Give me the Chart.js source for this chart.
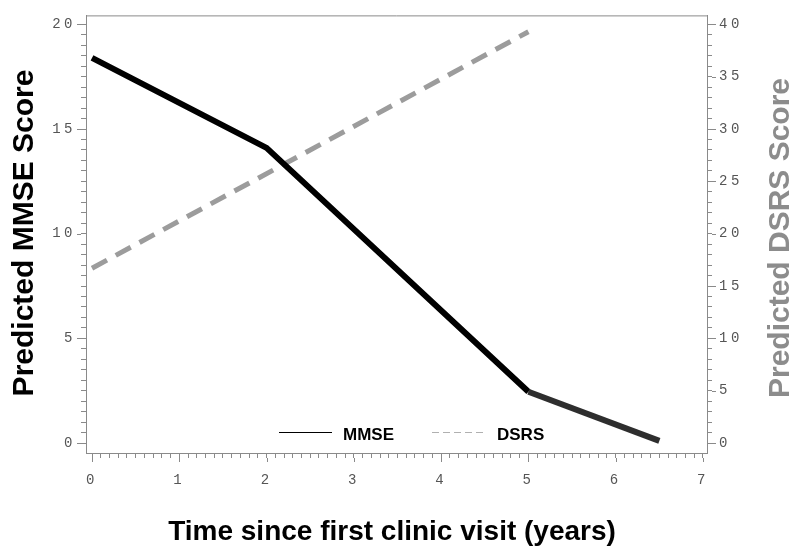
<!DOCTYPE html>
<html>
<head>
<meta charset="utf-8">
<script src="https://cdn.jsdelivr.net/npm/chart.js@4.4.0/dist/chart.umd.min.js"></script>
<style>
  html, body { margin: 0; padding: 0; background: #fff; }
</style>
</head>
<body>
<canvas id="myChart" width="800" height="550"></canvas>
<script>
// Years since first clinic visit for each series
var mmseYears = [0, 2, 5, 6.5];
var dsrsYears = [0, 5];
// Predicted scores
var mmse = [18.4, 14.1, 2.45, 0.1];
var dsrs = [16.7, 39.3];
// Labelled ticks
var yearTicks = [0, 1, 2, 3, 4, 5, 6, 7];
var mmseTicks = [0, 5, 10, 15, 20];
var dsrsTicks = [0, 5, 10, 15, 20, 25, 30, 35, 40];

var axisGrey = "#8a8a8a";
var tickFont = { family: "Liberation Mono", size: 14 };

function isIn(list, v) {
  for (var i = 0; i < list.length; i++) {
    if (Math.abs(list[i] - v) < 1e-6) return true;
  }
  return false;
}

function pairs(xs, ys) {
  return xs.map(function (x, i) { return { x: x, y: ys[i] }; });
}

// frame line on top, longer major ticks, titles and the legend
var decorations = {
  id: "decorations",
  beforeDraw: function (chart) {
    chart.ctx.letterSpacing = "3.5px";
  },
  afterDraw: function (chart) {
    var ctx = chart.ctx;
    var a = chart.chartArea;
    var sx = chart.scales.x, sy = chart.scales.y, sy1 = chart.scales.y1;
    ctx.save();
    ctx.letterSpacing = "0px";
    ctx.strokeStyle = axisGrey;
    ctx.lineWidth = 1;

    // top frame
    ctx.beginPath();
    ctx.moveTo(a.left, a.top + 0.5);
    ctx.lineTo(a.right, a.top + 0.5);
    ctx.stroke();

    // major tick extension
    ctx.beginPath();
    yearTicks.forEach(function (v) {
      var px = Math.round(sx.getPixelForValue(v)) + 0.5;
      ctx.moveTo(px, a.bottom + 5);
      ctx.lineTo(px, a.bottom + 9);
    });
    mmseTicks.forEach(function (v) {
      var py = Math.round(sy.getPixelForValue(v)) + 0.5;
      ctx.moveTo(a.left - 5, py);
      ctx.lineTo(a.left - 9, py);
    });
    dsrsTicks.forEach(function (v) {
      var py = Math.round(sy1.getPixelForValue(v)) + 0.5;
      ctx.moveTo(a.right + 5, py);
      ctx.lineTo(a.right + 9, py);
    });
    ctx.stroke();

    // axis titles
    ctx.font = "bold 30px 'Liberation Sans'";
    ctx.textAlign = "center";
    ctx.textBaseline = "alphabetic";
    ctx.fillStyle = "#000";
    ctx.save();
    ctx.translate(33, 233);
    ctx.rotate(-Math.PI / 2);
    ctx.fillText("Predicted MMSE Score", 0, 0);
    ctx.restore();

    ctx.fillStyle = "#8c8c8c";
    ctx.save();
    ctx.translate(789, 238);
    ctx.rotate(-Math.PI / 2);
    ctx.fillText("Predicted DSRS Score", 0, 0);
    ctx.restore();

    ctx.fillStyle = "#000";
    ctx.font = "bold 28px 'Liberation Sans'";
    ctx.fillText("Time since first clinic visit (years)", 392, 540);

    // legend
    var ly = 432.5;
    ctx.strokeStyle = "#000";
    ctx.beginPath();
    ctx.moveTo(279, ly);
    ctx.lineTo(332, ly);
    ctx.stroke();
    ctx.strokeStyle = "#b0b0b0";
    ctx.setLineDash([7, 4]);
    ctx.beginPath();
    ctx.moveTo(432, ly);
    ctx.lineTo(487, ly);
    ctx.stroke();
    ctx.setLineDash([]);
    ctx.font = "bold 17px 'Liberation Sans'";
    ctx.textAlign = "left";
    ctx.textBaseline = "middle";
    ctx.fillStyle = "#000";
    ctx.fillText("MMSE", 343, 435);
    ctx.fillText("DSRS", 497, 435);
    ctx.restore();
  }
};

var ctx = document.getElementById("myChart");
var myChart = new Chart(ctx, {
  type: "line",
  data: {
    datasets: [
      {
        label: "MMSE",
        data: pairs(mmseYears, mmse),
        yAxisID: "y",
        borderColor: "#000",
        borderWidth: 6,
        pointRadius: 0,
        fill: false,
        segment: {
          borderColor: function (c) { return c.p0DataIndex === 2 ? "#2e2e2e" : "#000"; }
        }
      },
      {
        label: "DSRS",
        data: pairs(dsrsYears, dsrs),
        yAxisID: "y1",
        borderColor: "#9c9c9c",
        borderWidth: 5,
        borderDash: [17, 10],
        pointRadius: 0,
        fill: false
      }
    ]
  },
  options: {
    responsive: false,
    animation: false,
    devicePixelRatio: 1,
    layout: { padding: { top: 15, left: 0, right: 0, bottom: 0 } },
    plugins: {
      legend: { display: false },
      tooltip: { enabled: false }
    },
    scales: {
      x: {
        type: "linear",
        position: "bottom",
        min: -0.069,
        max: 7.046,
        afterFit: function (s) { s.height = 97; },
        border: { color: axisGrey, width: 1 },
        grid: { drawOnChartArea: false, drawTicks: true, tickLength: 5, tickColor: axisGrey },
        ticks: {
          stepSize: 0.1,
          autoSkip: false,
          maxRotation: 0,
          includeBounds: false,
          padding: 14,
          color: "#555",
          font: tickFont,
          callback: function (v) { return isIn(yearTicks, v) ? String(Math.round(v)) : ""; }
        }
      },
      y: {
        type: "linear",
        position: "left",
        min: -0.477,
        max: 20.43,
        afterFit: function (s) { s.width = 86; },
        border: { color: axisGrey, width: 1 },
        grid: { drawOnChartArea: false, drawTicks: true, tickLength: 5, tickColor: axisGrey },
        ticks: {
          stepSize: 0.5,
          autoSkip: false,
          includeBounds: false,
          padding: 5,
          color: "#555",
          font: tickFont,
          callback: function (v) { return isIn(mmseTicks, v) ? String(Math.round(v)) : ""; }
        }
      },
      y1: {
        type: "linear",
        position: "right",
        min: -0.955,
        max: 40.86,
        afterFit: function (s) { s.width = 93; },
        border: { color: axisGrey, width: 1 },
        grid: { drawOnChartArea: false, drawTicks: true, tickLength: 5, tickColor: axisGrey },
        ticks: {
          stepSize: 1,
          autoSkip: false,
          includeBounds: false,
          padding: 7,
          color: "#555",
          font: tickFont,
          callback: function (v) { return isIn(dsrsTicks, v) ? String(Math.round(v)) : ""; }
        }
      }
    }
  },
  plugins: [decorations]
});
</script>
</body>
</html>
